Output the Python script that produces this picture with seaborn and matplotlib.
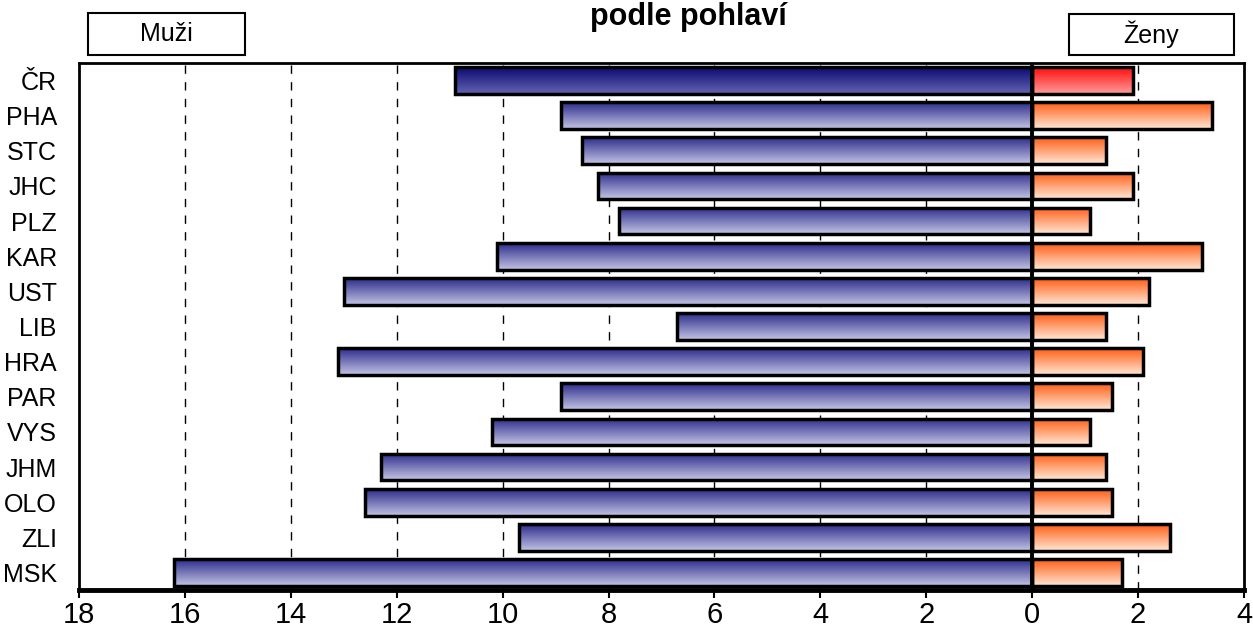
import matplotlib
matplotlib.use("Agg")

import matplotlib.pyplot as plt
import numpy as np
import pandas as pd
import seaborn as sns
from matplotlib.colors import to_rgb
from matplotlib.patches import Rectangle


REGIONS = ["ČR", "PHA", "STC", "JHC", "PLZ", "KAR", "UST", "LIB",
           "HRA", "PAR", "VYS", "JHM", "OLO", "ZLI", "MSK"]
MEN = [10.9, 8.9, 8.5, 8.2, 7.8, 10.1, 13.0, 6.7, 13.1, 8.9, 10.2, 12.3, 12.6, 9.7, 16.2]
WOMEN = [1.9, 3.4, 1.4, 1.9, 1.1, 3.2, 2.2, 1.4, 2.1, 1.5, 1.1, 1.4, 1.5, 2.6, 1.7]
X_TICKS = list(range(-18, 5, 2))
X_TICK_LABELS = [str(abs(t)) for t in X_TICKS]

# gradient (top colour, bottom colour)
MEN_GRAD = ("#2c2c8c", "#c4c4e4")
MEN_GRAD_CR = ("#0a0a72", "#6464b2")
WOMEN_GRAD = ("#ff5c14", "#ffe8d6")
WOMEN_GRAD_CR = ("#ff0c0c", "#ff9c9c")

FONT = ["Liberation Sans Narrow", "Liberation Sans", "DejaVu Sans"]


def _gradient(top: str, bottom: str, n: int = 128) -> np.ndarray:
    t = np.linspace(0, 1, n).reshape(-1, 1, 1)
    c0 = np.array(to_rgb(top)).reshape(1, 1, 3)
    c1 = np.array(to_rgb(bottom)).reshape(1, 1, 3)
    return c0 * (1 - t) + c1 * t


def main() -> None:
    sns.set_theme(style="white")
    plt.rcParams["font.family"] = FONT
    plt.rcParams["font.stretch"] = "condensed"
    plt.rcParams["text.color"] = "black"
    plt.rcParams["xtick.color"] = "black"
    plt.rcParams["ytick.color"] = "black"

    df = pd.DataFrame({
        "region": REGIONS * 2,
        "value": [-v for v in MEN] + WOMEN,
        "sex": ["Muži"] * len(REGIONS) + ["Ženy"] * len(REGIONS),
    })

    fig = plt.figure(figsize=(12.53, 6.41), dpi=100)
    ax = fig.add_axes([79 / 1253, 1 - 590 / 641, (1244 - 79) / 1253, (590 - 63) / 641])

    sns.barplot(data=df, x="value", y="region", hue="sex", orient="h", dodge=False,
                order=REGIONS, width=0.76, legend=False, ax=ax, zorder=3)

    for ci, cont in enumerate(ax.containers):
        for i, patch in enumerate(cont.patches):
            bb = patch.get_bbox()
            x0, x1 = sorted([bb.x0, bb.x1])
            y0, y1 = sorted([bb.y0, bb.y1])
            if ci == 0:
                top, bot = MEN_GRAD_CR if i == 0 else MEN_GRAD
            else:
                top, bot = WOMEN_GRAD_CR if i == 0 else WOMEN_GRAD
            im = ax.imshow(_gradient(top, bot), extent=(x0, x1, y1, y0), origin="upper",
                           aspect="auto", zorder=2, interpolation="bilinear")
            im.set_clip_path(patch)
            patch.set_facecolor("none")
            patch.set_edgecolor("black")
            patch.set_linewidth(2.5)

    for t in X_TICKS[1:-1]:
        if t != 0:
            ax.axvline(t, color="black", lw=1, ls=(0, (6, 6)), zorder=1)
    ax.axvline(0, color="black", lw=2.8, zorder=5)

    ax.set_xlim(-18, 4)
    ax.set_ylim(len(REGIONS) - 0.5, -0.5)
    ax.set_xticks(X_TICKS)
    ax.set_xticklabels(X_TICK_LABELS)
    ax.set_xlabel("")
    ax.set_ylabel("")
    ax.tick_params(axis="x", which="major", bottom=True, direction="out", length=6,
                   width=1.5, color="black", labelsize=21, pad=2)
    ax.tick_params(axis="y", left=False, labelsize=18, pad=10)

    for side, lw in [("left", 2), ("right", 2), ("top", 2), ("bottom", 3.5)]:
        ax.spines[side].set_visible(True)
        ax.spines[side].set_color("black")
        ax.spines[side].set_linewidth(lw)

    fig.text(688 / 1253, 1 - 25 / 641, "podle pohlaví", ha="center", va="baseline",
             fontsize=22, fontweight="bold", family=["Liberation Sans", "DejaVu Sans"])

    for label, (bx0, by0, bx1, by1) in [("Muži", (88, 13, 245, 55)),
                                        ("Ženy", (1069, 14, 1234, 55))]:
        fig.add_artist(Rectangle((bx0 / 1253, 1 - by1 / 641), (bx1 - bx0) / 1253,
                                 (by1 - by0) / 641, transform=fig.transFigure,
                                 facecolor="white", edgecolor="black", lw=1.5))
        fig.text((bx0 + bx1) / 2 / 1253, 1 - (by0 + by1) / 2 / 641, label,
                 ha="center", va="center", fontsize=18)

    fig.savefig("out.png", dpi=100)
    plt.close(fig)


if __name__ == "__main__":
    main()
